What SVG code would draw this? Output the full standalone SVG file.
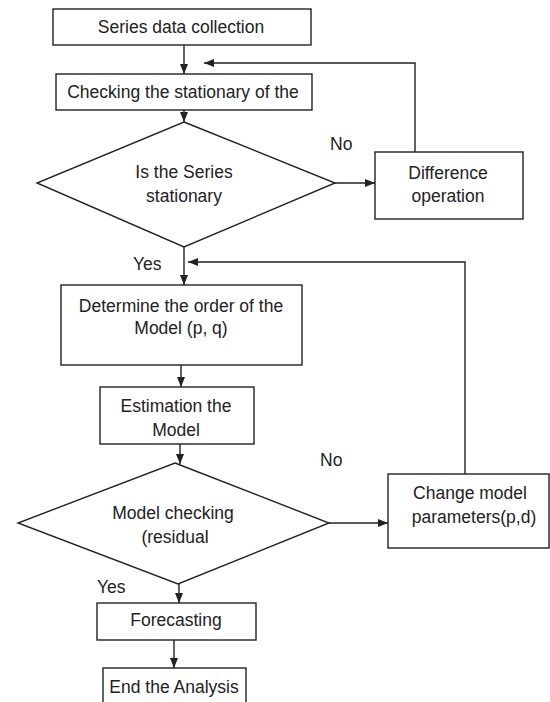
<svg xmlns="http://www.w3.org/2000/svg" width="550" height="702" viewBox="0 0 550 702">
<style>
.b{fill:#fff;stroke:#222;stroke-width:1.4}
.c{fill:none;stroke:#222;stroke-width:1.4}
text{font-family:"Liberation Sans",Arial,sans-serif;font-size:17.5px;fill:#222;text-anchor:middle}
.l{text-anchor:start}
</style>
<defs>
<marker id="ah" markerUnits="userSpaceOnUse" markerWidth="10" markerHeight="10" viewBox="0 0 10 10" refX="10" refY="5" orient="auto">
<path d="M0,1 L10,5 L0,9 Z" fill="#222"/>
</marker>
</defs>
<rect width="550" height="702" fill="#fff"/>
<g id="connectors">
<line class="c" x1="184" y1="45" x2="184" y2="74" marker-end="url(#ah)"/>
<line class="c" x1="184" y1="110" x2="184" y2="122" marker-end="url(#ah)"/>
<polyline class="c" points="415,152 415,63 204,63" marker-end="url(#ah)"/>
<line class="c" x1="335" y1="183" x2="375" y2="183" marker-end="url(#ah)"/>
<line class="c" x1="184" y1="247" x2="184" y2="285" marker-end="url(#ah)"/>
<polyline class="c" points="465,474 465,262 188,262" marker-end="url(#ah)"/>
<line class="c" x1="181" y1="365" x2="181" y2="387" marker-end="url(#ah)"/>
<line class="c" x1="180" y1="444" x2="180" y2="464" marker-end="url(#ah)"/>
<line class="c" x1="329" y1="523" x2="388" y2="523" marker-end="url(#ah)"/>
<line class="c" x1="179" y1="577" x2="179" y2="603" marker-end="url(#ah)"/>
<line class="c" x1="174" y1="640" x2="174" y2="668" marker-end="url(#ah)"/>
</g>
<g id="labels">
<text class="l" x="330" y="150">No</text>
<text class="l" x="133" y="270">Yes</text>
<text class="l" x="320" y="466">No</text>
<text class="l" x="97" y="593">Yes</text>
</g>
<g id="n1"><rect class="b" x="53" y="9" width="258" height="36"/><text x="181" y="33">Series data collection</text></g>
<g id="n2"><rect class="b" x="56" y="74" width="256" height="36"/><text x="183" y="98">Checking the stationary of the</text></g>
<g id="n3"><polygon class="b" points="184,122 335,183 184,247 37,183"/><text x="184" y="178">Is the Series</text><text x="184" y="202">stationary</text></g>
<g id="n4"><rect class="b" x="375" y="152" width="148" height="67"/><text x="448" y="179">Difference</text><text x="448" y="202">operation</text></g>
<g id="n5"><rect class="b" x="61" y="285" width="241" height="80"/><text x="181" y="312">Determine the order of the</text><text x="181" y="334">Model (p, q)</text></g>
<g id="n6"><rect class="b" x="100" y="387" width="154" height="57"/><text x="176" y="412">Estimation the</text><text x="176" y="436">Model</text></g>
<g id="n7"><polygon class="b" points="175,463 329,523 178,584 18,523"/><text x="173" y="519">Model checking</text><text x="175" y="543">(residual</text></g>
<g id="n8"><rect class="b" x="388" y="474" width="161" height="74"/><text x="470" y="499">Change model</text><text x="474" y="523">parameters(p,d)</text></g>
<g id="n9"><rect class="b" x="97" y="603" width="159" height="37"/><text x="176" y="626">Forecasting</text></g>
<g id="n10"><rect class="b" x="103" y="668" width="143" height="36"/><text x="174" y="693">End the Analysis</text></g>
</svg>
